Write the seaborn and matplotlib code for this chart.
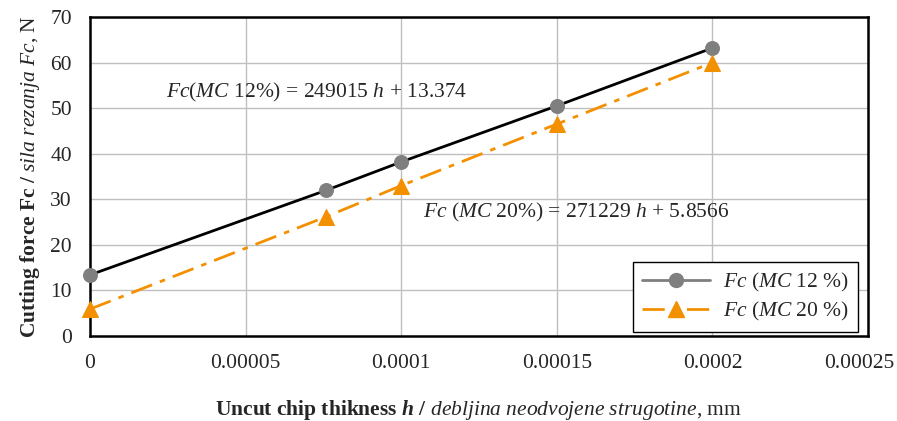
import numpy as np
import pandas as pd
import seaborn as sns
import matplotlib.pyplot as plt
import matplotlib.transforms as mtransforms
from matplotlib.lines import Line2D

# data
h = [0.0, 0.000076, 0.0001, 0.00015, 0.0002]
fc_mc12 = [13.4, 32.0, 38.2, 50.5, 63.2]
fc_mc20 = [5.9, 26.2, 33.0, 46.5, 60.0]
x_ticks = [0, 0.00005, 0.0001, 0.00015, 0.0002, 0.00025]
x_tick_labels = ['0', '0.00005', '0.0001', '0.00015', '0.0002', '0.00025']
y_ticks = [0, 10, 20, 30, 40, 50, 60, 70]

gray = '#7f7f7f'
orange = '#F39000'

sns.set_style("whitegrid")
plt.rcParams['font.family'] = ['Liberation Serif', 'DejaVu Serif']
plt.rcParams['mathtext.fontset'] = 'custom'
plt.rcParams['mathtext.rm'] = 'Liberation Serif'
plt.rcParams['mathtext.it'] = 'Liberation Serif:italic'
plt.rcParams['mathtext.bf'] = 'Liberation Serif:bold'
plt.rcParams['mathtext.bfit'] = 'Liberation Serif:bold:italic'

fs = 15.5

fig = plt.figure(figsize=(8.97, 4.21), dpi=100)
ax = fig.add_axes([0.1003, 0.2019, 0.8674, 0.7577])

df = pd.DataFrame({'h': h, 'mc12': fc_mc12, 'mc20': fc_mc20})
sns.lineplot(data=df, x='h', y='mc12', ax=ax, color='black', lw=2,
             marker='o', markersize=10, markerfacecolor=gray, markeredgecolor=gray, zorder=3)
sns.lineplot(data=df, x='h', y='mc20', ax=ax, color=orange, lw=2,
             marker='^', markersize=11, markerfacecolor=orange, markeredgecolor=orange, zorder=3)
ax.lines[1].set_dashes([8, 3, 2, 3])

ax.set_xlim(0, 0.00025)
ax.set_ylim(0, 70)
ax.set_xticks(x_ticks)
ax.set_xticklabels(x_tick_labels)
ax.set_yticks(y_ticks)
ax.tick_params(axis='x', labelsize=fs, pad=13, length=0)
ax.tick_params(axis='y', labelsize=fs, pad=13, length=0)
ax.grid(True, color='#bfbfbf', lw=1)
for s in ax.spines.values():
    s.set_color('black')
    s.set_linewidth(1.8)
    s.set_visible(True)
for l in ax.lines:
    l.set_clip_on(False)

# last x label sits a bit inside the figure, as in the original
last = ax.get_xticklabels()[-1]
last.set_transform(last.get_transform() + mtransforms.ScaledTranslation(-0.09, 0, fig.dpi_scale_trans))

ax.set_xlabel(r'$\mathbf{Uncut\ chip\ thikness}$ $\mathbfit{h}$ $\mathbf{/}$ $\mathit{debljina\ neodvojene\ strugotine}$, mm',
              fontsize=fs, labelpad=18)
ax.set_ylabel(r'$\mathbf{Cutting\ force\ Fc\ /}$ $\mathit{sila\ rezanja\ Fc}$, N', fontsize=fs, labelpad=6)

ax.text(0.0000245, 53.4, r'$\mathit{Fc}$($\mathit{MC}$ 12%) = 249015 $\mathit{h}$ + 13.374',
        fontsize=fs, va='center', ha='left')
ax.text(0.000107, 27.0, r'$\mathit{Fc}$ ($\mathit{MC}$ 20%) = 271229 $\mathit{h}$ + 5.8566',
        fontsize=fs, va='center', ha='left')

handles = [
    Line2D([], [], color=gray, lw=2, marker='o', markersize=10),
    Line2D([], [], color=orange, lw=2, marker='^', markersize=11, dashes=[8, 3, 2, 3]),
]
labels = [r'$\mathit{Fc}$ ($\mathit{MC}$ 12 %)', r'$\mathit{Fc}$ ($\mathit{MC}$ 20 %)']
leg = ax.legend(handles, labels, loc='lower right', bbox_to_anchor=(0.987, 0.0125),
                borderaxespad=0, fontsize=fs, frameon=True, fancybox=False, edgecolor='black',
                framealpha=1, handlelength=3.2, borderpad=0.4, labelspacing=0.3,
                handletextpad=0.6)
leg.get_frame().set_linewidth(1)

fig.savefig('out.png', dpi=100)
